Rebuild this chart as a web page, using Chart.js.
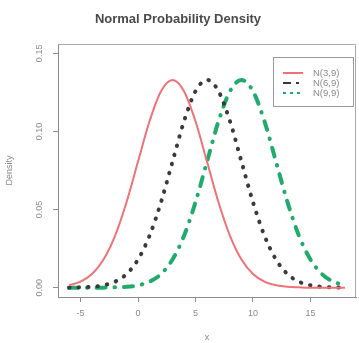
<!DOCTYPE html>
<html>
<head>
<meta charset="utf-8">
<script src="https://cdn.jsdelivr.net/npm/chart.js@4"></script>
<style>
  html, body { margin: 0; padding: 0; background: #ffffff; }
  #wrap { width: 359px; height: 343px; }
</style>
</head>
<body>
<div id="wrap"><canvas id="chart" width="359" height="343"></canvas></div>
<script>
// x grid the densities are sampled on
const xValues = [-6, -5, -4, -3, -2, -1, 0, 1, 2, 3, 4, 5, 6, 7, 8, 9, 10, 11, 12, 13, 14, 15, 16, 17, 18];

// density values for N(3,9), N(6,9), N(9,9)
const densityMean3 = [0.0015, 0.0038, 0.0087, 0.0180, 0.0332, 0.0547, 0.0807, 0.1065, 0.1258, 0.1330, 0.1258, 0.1065, 0.0807, 0.0547, 0.0332, 0.0180, 0.0087, 0.0038, 0.0015, 0.0005, 0.0002, 0.0000, 0.0000, 0.0000, 0.0000];
const densityMean6 = [0.0000, 0.0002, 0.0005, 0.0015, 0.0038, 0.0087, 0.0180, 0.0332, 0.0547, 0.0807, 0.1065, 0.1258, 0.1330, 0.1258, 0.1065, 0.0807, 0.0547, 0.0332, 0.0180, 0.0087, 0.0038, 0.0015, 0.0005, 0.0002, 0.0000];
const densityMean9 = [0.0000, 0.0000, 0.0000, 0.0000, 0.0002, 0.0005, 0.0015, 0.0038, 0.0087, 0.0180, 0.0332, 0.0547, 0.0807, 0.1065, 0.1258, 0.1330, 0.1258, 0.1065, 0.0807, 0.0547, 0.0332, 0.0180, 0.0087, 0.0038, 0.0015];

const seriesLabels = ['N(3,9)', 'N(6,9)', 'N(9,9)'];
const xTickValues = [-5, 0, 5, 10, 15];
const yTickValues = [0, 0.05, 0.10, 0.15];

const toPoints = ys => xValues.map((x, i) => ({ x: x, y: ys[i] }));

const AXIS_GREY = '#8c8c8c';
const TEXT_GREY = '#8a8a8a';
const FONT = "'Liberation Sans', Arial, sans-serif";

// box around the plotting region plus the legend in its top-right corner
const framePlugin = {
  id: 'frameAndLegend',
  afterDatasetsDraw(chart) {
    const { ctx, chartArea } = chart;
    ctx.save();
    ctx.strokeStyle = '#a8a8a8';
    ctx.lineWidth = 1;
    ctx.beginPath();
    ctx.moveTo(chartArea.left, chartArea.top + 0.5);
    ctx.lineTo(chartArea.right - 0.5, chartArea.top + 0.5);
    ctx.lineTo(chartArea.right - 0.5, chartArea.bottom);
    ctx.stroke();

    // legend
    const boxRight = chartArea.right - 3;
    const boxLeft = boxRight - 80;
    const boxTop = chartArea.top + 13;
    const boxBottom = boxTop + 49;
    ctx.strokeStyle = '#9a9a9a';
    ctx.strokeRect(boxLeft + 0.5, boxTop + 0.5, boxRight - boxLeft, boxBottom - boxTop);

    const legendDash = [[], [8, 5, 3, 5], [3, 4]];
    chart.data.datasets.forEach((ds, i) => {
      const y = boxTop + 16 + i * 10;
      ctx.beginPath();
      ctx.strokeStyle = ds.borderColor;
      ctx.lineWidth = 2;
      ctx.lineCap = 'butt';
      ctx.setLineDash(legendDash[i]);
      ctx.moveTo(boxLeft + 10, y);
      ctx.lineTo(boxLeft + 30, y);
      ctx.stroke();
      ctx.setLineDash([]);
      ctx.fillStyle = TEXT_GREY;
      ctx.font = '9.5px ' + FONT;
      ctx.textBaseline = 'middle';
      ctx.textAlign = 'left';
      ctx.fillText(ds.label, boxLeft + 40, y);
    });
    ctx.restore();
  }
};

new Chart(document.getElementById('chart'), {
  type: 'line',
  data: {
    datasets: [
      {
        label: seriesLabels[0],
        data: toPoints(densityMean3),
        borderColor: '#f07176',
        borderWidth: 2,
        cubicInterpolationMode: 'monotone',
        pointRadius: 0,
        fill: false
      },
      {
        label: seriesLabels[1],
        data: toPoints(densityMean6),
        borderColor: '#3a3a3a',
        borderWidth: 4,
        borderDash: [0.5, 9],
        borderCapStyle: 'round',
        cubicInterpolationMode: 'monotone',
        pointRadius: 0,
        fill: false
      },
      {
        label: seriesLabels[2],
        data: toPoints(densityMean9),
        borderColor: '#1eab6c',
        borderWidth: 4,
        borderDash: [9, 9, 0.5, 9],
        borderCapStyle: 'round',
        cubicInterpolationMode: 'monotone',
        pointRadius: 0,
        fill: false
      }
    ]
  },
  options: {
    responsive: false,
    animation: false,
    layout: { padding: { top: 0, right: 3, left: 0, bottom: 0 } },
    plugins: {
      legend: { display: false },
      tooltip: { enabled: false },
      title: {
        display: true,
        text: 'Normal Probability Density',
        color: '#4a4a4a',
        font: { family: FONT, size: 13, weight: 'bold', lineHeight: 1.2 },
        padding: { top: 12, bottom: 16.4 }
      }
    },
    scales: {
      x: {
        type: 'linear',
        min: -6.96,
        max: 18.96,
        afterBuildTicks: scale => { scale.ticks = xTickValues.map(v => ({ value: v })); },
        afterFit: scale => { scale.height = 46; },
        grid: { display: true, drawOnChartArea: false, drawTicks: true, tickLength: 5, tickColor: AXIS_GREY },
        border: { display: true, color: AXIS_GREY, width: 1 },
        ticks: {
          color: TEXT_GREY,
          font: { family: FONT, size: 9 },
          padding: 6,
          maxRotation: 0,
          autoSkip: false,
          callback: v => String(v)
        },
        title: {
          display: true,
          text: 'x',
          color: TEXT_GREY,
          font: { family: FONT, size: 9 },
          padding: { top: 0, bottom: 0 }
        }
      },
      y: {
        type: 'linear',
        min: -0.006,
        max: 0.156,
        afterBuildTicks: scale => { scale.ticks = yTickValues.map(v => ({ value: v })); },
        afterFit: scale => { scale.width = 58; },
        grid: { display: true, drawOnChartArea: false, drawTicks: true, tickLength: 5, tickColor: AXIS_GREY },
        border: { display: true, color: AXIS_GREY, width: 1 },
        ticks: {
          color: TEXT_GREY,
          font: { family: FONT, size: 9 },
          padding: 5,
          minRotation: 90,
          maxRotation: 90,
          crossAlign: 'center',
          autoSkip: false,
          callback: v => Number(v).toFixed(2)
        },
        title: {
          display: true,
          text: 'Density',
          color: TEXT_GREY,
          font: { family: FONT, size: 9 },
          padding: { top: 4.6, bottom: 0 }
        }
      }
    }
  },
  plugins: [framePlugin]
});
</script>
</body>
</html>
